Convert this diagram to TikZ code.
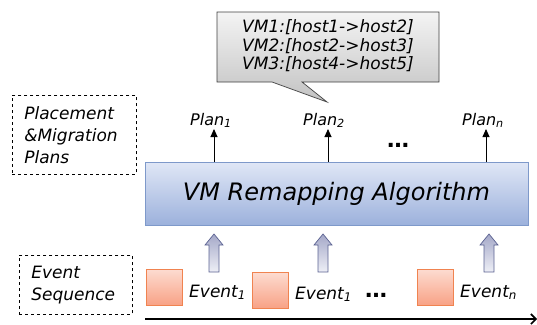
\documentclass[tikz,border=0pt]{standalone}
\usepackage{fontspec}
\setmainfont{DejaVu Sans}
\usetikzlibrary{arrows.meta,calc}
\definecolor{callouttop}{HTML}{F4F4F4}
\definecolor{calloutbot}{HTML}{C2C2C2}
\definecolor{algotop}{HTML}{E0E7F6}
\definecolor{algobot}{HTML}{9CB1DC}
\definecolor{algoborder}{HTML}{7E99CA}
\definecolor{blktop}{HTML}{A4A8C8}
\definecolor{blkbot}{HTML}{EEEFF6}
\definecolor{blkborder}{HTML}{5C6392}
\definecolor{evtop}{HTML}{FDDCD1}
\definecolor{evbot}{HTML}{F8A286}
\definecolor{evborder}{HTML}{F08350}
\begin{document}
\begin{tikzpicture}[x=1pt,y=-1pt,
  lbl/.style={font=\fontsize{16}{18}\selectfont\itshape, inner sep=0pt, anchor=base west},
  evlbl/.style={font=\fontsize{17}{18}\selectfont\itshape, inner sep=0pt, anchor=base west},
  dbox/.style={draw, dashed, line width=0.6pt, anchor=north west, align=left,
    inner xsep=12pt, inner ysep=0pt, font=\fontsize{17}{22}\selectfont\itshape},
  evbox/.style={draw=evborder, line width=0.8pt, top color=evtop, bottom color=evbot,
    minimum width=36pt, minimum height=36pt, inner sep=0pt},
  blockarrow/.style={draw=blkborder, line width=0.7pt, top color=blktop, bottom color=blkbot},
  planarr/.style={line width=0.9pt, -{Triangle[length=8pt,width=7pt]}},
  dots/.style={font=\fontsize{22}{22}\selectfont\bfseries, inner sep=0pt, anchor=base}]
\useasboundingbox (0,0) rectangle (537,324);

% callout
\path[draw=black!75, line width=0.7pt, top color=callouttop, bottom color=calloutbot]
  (217,12) -- (439,12) -- (439,82) -- (302,82) -- (327,102) -- (272,82) -- (217,82) -- cycle;
\node[font=\fontsize{17}{18.5}\selectfont\itshape, align=center, inner sep=0pt] (callout)
  at (328,46) {VM1:[host1->host2]\\VM2:[host2->host3]\\VM3:[host4->host5]};

% left dashed labels
\node[dbox, text width=100pt, minimum height=79pt] (placebox) at (12,95)
  {Placement\\\&Migration\\Plans};
\node[dbox, text width=89pt, minimum height=59pt] (seqbox) at (19,255)
  {Event\\Sequence};

% main algorithm box
\node[draw=algoborder, line width=0.8pt, top color=algotop, bottom color=algobot,
  minimum width=383pt, minimum height=63pt, inner sep=0pt,
  font=\fontsize{24}{28}\selectfont\itshape] (algo) at (336.5,193.5) {VM Remapping Algorithm};

% plans
\node[lbl] (plan1) at (190,125) {Plan\textsubscript{1}};
\node[lbl] (plan2) at (303,125) {Plan\textsubscript{2}};
\node[lbl] (plann) at (462,125) {Plan\textsubscript{n}};
\node[dots] (topdots) at (398,147) {…};
\coordinate (p1) at (214,129);
\coordinate (p2) at (328,129);
\coordinate (pn) at (486,129);
\draw[planarr] (algo.north -| p1) -- (p1);
\draw[planarr] (algo.north -| p2) -- (p2);
\draw[planarr] (algo.north -| pn) -- (pn);

% block arrows
\foreach \ax in {214,323,489}{
  \path[blockarrow] (\ax,234) -- ({\ax+9},245) -- ({\ax+5},245) -- ({\ax+5},272)
    -- ({\ax-5},272) -- ({\ax-5},245) -- ({\ax-9},245) -- cycle;
}

% events
\node[evbox] (ev1) at (164,287) {};
\node[evbox] (ev2) at (270.5,290) {};
\node[evbox] (evn) at (435,287) {};
\node[evlbl] (ev1l) at (189,297) {Event\textsubscript{1}};
\node[evlbl] (ev2l) at (295,299) {Event\textsubscript{1}};
\node[evlbl] (evnl) at (460,297) {Event\textsubscript{n}};
\node[dots] (botdots) at (376,297) {…};

% timeline
\coordinate (tl0) at (145,319);
\coordinate (tl1) at (537,319);
\draw[line width=1.6pt, -{Straight Barb[length=5pt,width=10pt]}] (tl0) -- (tl1);
\end{tikzpicture}
\end{document}
